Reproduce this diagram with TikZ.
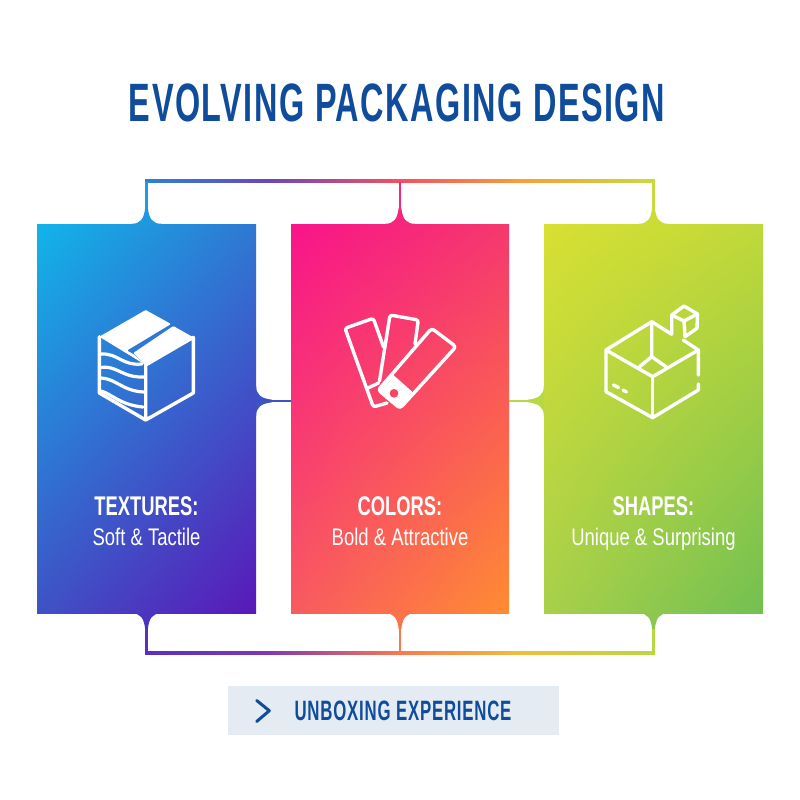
\documentclass[tikz,border=0pt]{standalone}
\usepackage{fontspec}
\usepackage{tikz}
\usetikzlibrary{shadings}
\setmainfont{Liberation Sans}
\newfontfamily\titlefont[FakeStretch=0.6,LetterSpace=2.8]{Liberation Sans}
\newfontfamily\headfont[FakeStretch=0.68]{Liberation Sans}
\newfontfamily\subfont[FakeStretch=0.77]{Liberation Sans}
\definecolor{navy}{HTML}{0F4C9C}
\definecolor{badge}{HTML}{E4EBF3}
\definecolor{texul}{HTML}{11B4EA}
\definecolor{texur}{HTML}{2F78D2}
\definecolor{texll}{HTML}{3F52C5}
\definecolor{texlr}{HTML}{5A18B8}
\definecolor{colul}{HTML}{F8148A}
\definecolor{colur}{HTML}{F5386E}
\definecolor{colll}{HTML}{F85A60}
\definecolor{collr}{HTML}{FF8C32}
\definecolor{shaul}{HTML}{D8E032}
\definecolor{shaur}{HTML}{C0D83A}
\definecolor{shall}{HTML}{A8D04A}
\definecolor{shalr}{HTML}{72C052}
\definecolor{topa}{HTML}{2F80D8}
\definecolor{topb}{HTML}{6A48B8}
\definecolor{topc}{HTML}{F55060}
\definecolor{topd}{HTML}{F6A038}
\definecolor{tope}{HTML}{C8DA40}
\definecolor{bota}{HTML}{5A30C0}
\definecolor{botb}{HTML}{8238B0}
\definecolor{botc}{HTML}{FA7850}
\definecolor{botd}{HTML}{F0BE3C}
\definecolor{bote}{HTML}{B8D840}
\pgfdeclarehorizontalshading{railtop}{100bp}{color(0bp)=(topa); color(25bp)=(topa); color(37bp)=(topb); color(50bp)=(topc); color(62bp)=(topd); color(75bp)=(tope); color(100bp)=(tope)}
\pgfdeclarehorizontalshading{railbot}{100bp}{color(0bp)=(bota); color(25bp)=(bota); color(37bp)=(botb); color(50bp)=(botc); color(62bp)=(botd); color(75bp)=(bote); color(100bp)=(bote)}
\tikzset{
  card/.style={rectangle,inner sep=0pt,minimum width=219pt,minimum height=389pt},
  head/.style={anchor=base,text=white,font=\headfont\bfseries\fontsize{27}{30}\selectfont},
  sub/.style={anchor=base,text=white,font=\subfont\fontsize{24}{28}\selectfont},
  icon/.style={draw=white,line width=3.4pt,line join=round,line cap=round},
  wave/.style={icon,line width=3.2pt},
  link/.style={line width=2.6pt},
  flare/.pic={\fill[pic actions] (-15,0) .. controls (-6,0) and (-2.5,-5) .. (-1.3,-16) -- (1.3,-16) .. controls (2.5,-5) and (6,0) .. (15,0) -- cycle;}
}
\begin{document}
\begin{tikzpicture}[x=1pt,y=-1pt]
\useasboundingbox (0,0) rectangle (800,800);
\fill[white] (0,0) rectangle (800,800);
\node[text=navy,font=\titlefont\bfseries\fontsize{54}{60}\selectfont] (title) at (397,103) {EVOLVING PACKAGING DESIGN};
\node[card,upper left=texul,upper right=texur,lower left=texll,lower right=texlr] (textures) at (146.5,418.5) {};
\node[card,minimum width=218pt,upper left=colul,upper right=colur,lower left=colll,lower right=collr] (colors) at (400,418.5) {};
\node[card,upper left=shaul,upper right=shaur,lower left=shall,lower right=shalr] (shapes) at (653.5,418.5) {};
\coordinate (railtl) at (145.2,179.7);
\coordinate (railtr) at (655,182.3);
\coordinate (railbl) at (145.2,651.7);
\coordinate (railbr) at (655,654.3);
\shade[shading=railtop] (railtl) rectangle (railtr);
\shade[shading=railbot] (railbl) rectangle (railbr);
\draw[link,color=texul!60!texur] (textures.north) -- (textures.north |- railtr);
\draw[link,color=colul!50!colur] (colors.north) -- (colors.north |- railtr);
\draw[link,color=tope] (shapes.north) -- (shapes.north |- railtr);
\draw[link,color=bota] (textures.south) -- (textures.south |- railbl);
\draw[link,color=botc] (colors.south) -- (colors.south |- railbl);
\draw[link,color=bote] (shapes.south) -- (shapes.south |- railbl);
\draw[link,color=texll] (textures.east |- 0,401) -- (colors.west |- 0,401);
\draw[link,color=bote] (colors.east |- 0,401) -- (shapes.west |- 0,401);
\pic[fill=texul!55!texur] at (textures.north) {flare};
\pic[fill=colul!50!colur] at (colors.north) {flare};
\pic[fill=shaul!50!shaur] at (shapes.north) {flare};
\pic[fill=texll!50!texlr,yscale=-1] at (textures.south) {flare};
\pic[fill=colll!50!collr,yscale=-1] at (colors.south) {flare};
\pic[fill=shall!50!shalr,yscale=-1] at (shapes.south) {flare};
\pic[fill=texll,rotate=-90] at (textures.east |- 0,401) {flare};
\pic[fill=bote,rotate=90] at (shapes.west |- 0,401) {flare};
\fill[white,rounded corners=1pt] (99.3,336.7) -- (145.7,310) -- (171,324) -- (127,350.5) -- (134,354.5) -- (145.7,365) -- cycle;
\fill[white,rounded corners=1pt] (173.3,326) -- (193.3,337.3) -- (145.7,365) -- (133.3,353) -- cycle;
\draw[icon] (99.3,336.7) -- (99.3,393) -- (145.7,420) -- (193.3,393) -- (193.3,337.3) -- (145.7,365) -- (145.7,420);
\draw[wave] (101,354) .. controls (118,353) and (122,366) .. (142,364);
\draw[wave] (101,367.5) .. controls (117,365) and (122,378) .. (144,377);
\draw[wave] (101,378) .. controls (117,379) and (122,391) .. (144,392);
\draw[wave] (101,391) .. controls (112,394) and (120,405) .. (143,407);
\draw[icon,rounded corners=2.5pt] (383.5,347) -- (373.3,318.3) -- (345,328.3) -- (373.3,407) -- (387,403);
\draw[icon,rounded corners=2.5pt] (379.5,381) -- (390,315) -- (418.3,320) -- (415,344);
\draw[icon] (368,388) -- (378.5,383);
\draw[icon,rounded corners=3pt] (431.7,328.3) -- (456,346.7) -- (400,408.3) -- (378.3,390) -- cycle;
\fill[white,even odd rule] (378.3,390) -- (393.3,375) -- (413.3,392.7) -- (400,408.3) -- cycle (394,393.3) circle (4.5);
\draw[icon] (606,350) -- (651.7,321.7) -- (671.7,334.3);
\draw[icon] (683.3,340) -- (698.3,350) -- (698.3,375);
\draw[icon] (698.3,384) -- (698.3,390) -- (652.7,417.7) -- (606,391.7) -- (606,350) -- (652.7,376.7) -- (698.3,350);
\draw[icon] (652.7,376.7) -- (652.7,417.7);
\draw[icon] (651.7,321.7) -- (651.7,356.7) -- (638.3,367.7);
\draw[icon] (651.7,356.7) -- (666,366.7);
\draw[icon] (613.5,385) -- (618.5,387.5);
\draw[icon] (623,390) -- (626.5,392);
\draw[icon] (671.7,334.3) -- (671.7,315) -- (684,306) -- (697.5,314) -- (697,328.3) -- (685,336.7) -- (684,321) -- (671.7,315);
\draw[icon] (684,321) -- (697.5,314);
\node[head] (textureshead) at (textures |- 0,515) {TEXTURES:};
\node[sub] (texturessub) at (textures |- 0,545) {Soft \& Tactile};
\node[head] (colorshead) at (colors |- 0,515) {COLORS:};
\node[sub] (colorssub) at (colors |- 0,545) {Bold \& Attractive};
\node[head] (shapeshead) at (shapes |- 0,515) {SHAPES:};
\node[sub] (shapessub) at (shapes |- 0,545) {Unique \& Surprising};
\node[fill=badge,minimum width=331pt,minimum height=49pt,inner sep=0pt] (badgebox) at (393.5,710.5) {};
\node[text=navy,font=\titlefont\bfseries\fontsize{28}{30}\selectfont] (badgetext) at (403,711) {UNBOXING EXPERIENCE};
\draw[navy,line width=3pt,line cap=round,line join=round] (256.7,700.5) -- (269.3,710.7) -- (256.7,721.5);
\end{tikzpicture}
\end{document}
